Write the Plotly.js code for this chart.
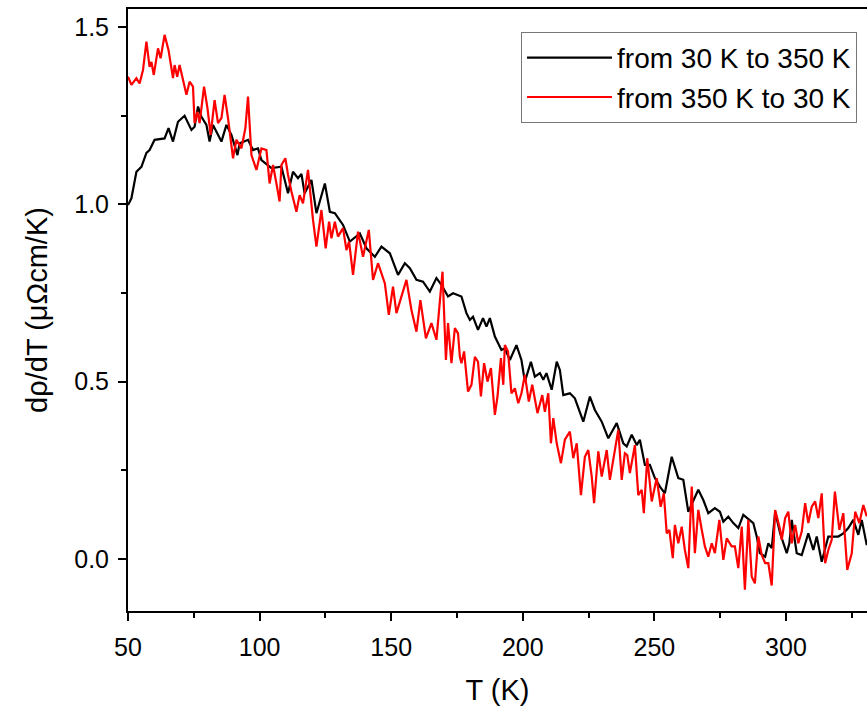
<!DOCTYPE html>
<html>
<head>
<meta charset="utf-8">
<script src="https://cdn.plot.ly/plotly-3.0.1.min.js"></script>
<style>html,body{margin:0;padding:0;background:#fff;overflow:hidden}</style>
</head>
<body>
<div id="chart" style="width:867px;height:710px"></div>
<script>
// Series 1: from 30 K to 350 K (black)
const upT = [50.0,51.3,53.2,55.1,57.0,58.2,60.1,62.7,63.9,65.4,67.1,69.0,71.5,74.1,75.3,76.6,77.9,79.8,81.0,82.3,83.6,85.5,87.4,89.3,91.6,92.4,95.6,97.5,99.4,100.7,104.5,108.3,110.8,112.7,114.6,115.9,117.1,119.7,121.6,124.8,126.7,128.6,131.7,134.3,138.1,140.6,143.8,146.3,149.5,152.6,155.2,157.1,159.6,162.1,164.7,167.2,169.1,171.6,173.5,176.7,178.6,179.9,181.1,183.0,184.9,186.2,187.5,189.4,191.9,193.2,195.1,197.6,199.5,200.8,203.1,204.6,206.5,207.8,209.0,211.0,212.9,214.1,215.4,217.9,219.8,223.0,225.5,227.4,230.0,232.5,235.7,238.2,239.5,241.4,243.3,244.5,246.4,248.3,250.2,252.1,254.0,256.6,259.1,261.0,262.9,264.8,266.7,268.6,270.5,273.0,274.9,276.2,278.1,280.0,281.9,283.8,286.3,287.6,288.9,290.1,292.1,293.3,294.6,295.9,297.8,300.3,301.3,302.2,304.1,306.0,308.5,310.4,311.7,313.6,316.1,318.0,319.9,321.8,323.7,325.6,327.5,328.8,330.7,332.0];
const upD = [0.998,1.017,1.092,1.106,1.145,1.153,1.182,1.186,1.186,1.215,1.177,1.233,1.250,1.210,1.219,1.276,1.247,1.224,1.177,1.224,1.205,1.177,1.224,1.196,1.139,1.172,1.182,1.153,1.158,1.125,1.102,1.106,1.031,1.092,1.074,1.086,1.031,1.069,0.975,1.059,0.979,0.975,0.942,0.895,0.918,0.876,0.852,0.881,0.862,0.801,0.834,0.820,0.787,0.782,0.754,0.792,0.773,0.740,0.749,0.740,0.693,0.674,0.683,0.646,0.679,0.655,0.679,0.627,0.589,0.594,0.561,0.603,0.561,0.500,0.556,0.514,0.524,0.505,0.524,0.477,0.556,0.533,0.462,0.467,0.453,0.387,0.458,0.420,0.387,0.340,0.383,0.326,0.317,0.350,0.321,0.336,0.265,0.265,0.228,0.204,0.185,0.288,0.228,0.223,0.133,0.166,0.195,0.166,0.129,0.143,0.133,0.105,0.119,0.101,0.087,0.124,0.110,0.101,0.063,0.016,0.006,0.044,0.030,0.133,0.072,0.016,0.044,0.110,0.016,0.011,0.072,0.025,0.063,-0.008,0.063,0.063,0.063,0.072,0.087,0.110,0.068,0.110,0.039,0.070];

// Series 2: from 350 K to 30 K (red)
const downT = [50.0,51.3,53.2,54.4,55.7,57.0,58.2,58.9,59.8,61.4,62.4,63.9,65.4,67.1,67.7,68.7,69.6,71.5,72.2,73.4,74.7,75.3,76.4,77.2,78.9,80.2,81.4,82.9,84.2,85.5,86.7,88.0,89.9,91.2,93.1,94.6,95.6,96.9,98.8,100.7,102.6,103.8,105.1,106.4,107.6,108.3,109.8,110.8,112.1,114.0,115.2,116.5,118.4,120.3,121.6,123.5,125.1,126.4,127.3,128.6,129.8,131.7,133.0,134.0,135.5,137.4,139.3,141.5,143.1,145.0,147.6,149.1,150.7,152.0,153.9,155.8,157.7,159.6,161.1,163.2,165.3,167.2,169.5,170.8,171.6,172.9,174.2,175.4,176.1,176.7,177.7,179.2,180.5,181.8,183.0,184.1,185.3,186.6,187.9,189.4,190.4,191.7,192.6,193.2,194.4,195.7,197.0,198.3,199.5,200.8,202.3,203.6,205.6,207.4,208.4,209.7,210.7,211.6,212.9,214.5,216.0,217.9,219.2,220.5,222.1,223.6,224.9,226.2,227.1,228.7,230.0,231.9,233.1,234.8,236.3,237.6,238.8,239.7,240.7,242.6,243.9,245.2,246.0,247.3,249.0,250.9,252.4,253.6,254.7,255.7,257.0,257.8,259.1,260.4,261.6,262.9,264.2,265.4,266.7,268.0,269.2,270.5,271.8,273.0,274.7,276.2,277.5,279.4,280.6,281.9,283.2,284.4,285.7,287.0,288.2,289.5,290.8,292.1,293.3,294.6,295.9,297.8,298.4,299.7,300.9,302.2,303.5,304.7,306.0,307.3,308.5,309.8,311.1,312.3,313.6,314.9,316.1,317.4,318.6,320.3,321.8,323.3,325.0,326.3,327.9,329.4,330.7,332.0];
const downD = [1.360,1.337,1.356,1.341,1.379,1.459,1.388,1.402,1.365,1.440,1.412,1.478,1.435,1.356,1.393,1.360,1.393,1.327,1.309,1.346,1.332,1.229,1.261,1.229,1.332,1.271,1.196,1.294,1.229,1.243,1.309,1.243,1.130,1.182,1.158,1.215,1.304,1.139,1.097,1.158,1.153,1.059,1.111,1.059,1.008,1.111,1.130,1.083,1.036,0.979,1.026,1.003,1.097,0.956,0.881,0.984,0.876,0.951,0.904,0.951,0.909,0.933,0.871,0.895,0.801,0.923,0.852,0.928,0.787,0.834,0.777,0.688,0.768,0.693,0.740,0.787,0.702,0.641,0.730,0.622,0.665,0.618,0.810,0.561,0.665,0.552,0.651,0.636,0.570,0.552,0.585,0.472,0.491,0.570,0.556,0.458,0.552,0.500,0.538,0.406,0.458,0.566,0.491,0.603,0.585,0.467,0.481,0.439,0.467,0.519,0.444,0.491,0.411,0.462,0.415,0.467,0.326,0.397,0.326,0.270,0.336,0.359,0.284,0.326,0.180,0.288,0.307,0.232,0.157,0.303,0.232,0.307,0.223,0.298,0.364,0.223,0.298,0.293,0.242,0.321,0.180,0.195,0.129,0.284,0.162,0.228,0.147,0.185,0.072,0.082,0.002,0.096,0.044,0.091,0.025,-0.026,0.204,0.016,0.138,0.082,0.035,0.006,0.044,0.016,0.110,-0.003,0.058,0.035,0.035,-0.026,0.091,-0.087,0.110,-0.050,-0.069,0.063,0.011,-0.012,-0.012,-0.075,0.138,0.082,0.054,0.115,0.133,0.044,0.096,0.044,0.077,0.157,0.101,0.147,0.162,0.115,0.185,-0.012,0.025,0.054,0.190,0.082,0.129,-0.031,0.016,0.133,0.101,0.152,0.120];

const seriesNames = ["from 30 K to 350 K", "from 350 K to 30 K"];
const xTitle = "T (K)";
const yTitle = "dρ/dT (μΩcm/K)";

const FONT = "Arial, 'Liberation Sans', sans-serif";

const traces = [
  {x: upT, y: upD, type: "scatter", mode: "lines", name: seriesNames[0],
   line: {color: "#000000", width: 2.2}},
  {x: downT, y: downD, type: "scatter", mode: "lines", name: seriesNames[1],
   line: {color: "#ff0000", width: 2.2}}
];

const layout = {
  width: 867, height: 710,
  margin: {l: 128, r: 0, t: 9, b: 99},
  paper_bgcolor: "#fff", plot_bgcolor: "#fff",
  font: {family: FONT, color: "#000"},
  showlegend: true,
  legend: {
    x: 0.9865, xanchor: "right", y: 0.962, yanchor: "top",
    bgcolor: "#fff", bordercolor: "#777", borderwidth: 1,
    font: {family: FONT, size: 28, color: "#000"},
    itemwidth: 85, tracegroupgap: 0
  },
  xaxis: {
    range: [50, 330.8], showgrid: false, zeroline: false,
    showline: true, linecolor: "#000", linewidth: 2, mirror: true,
    ticks: "outside", ticklen: 8, tickwidth: 2, tickcolor: "#000",
    tick0: 50, dtick: 50, ticklabelstandoff: 5,
    minor: {ticks: "outside", ticklen: 5, tickwidth: 2, tickcolor: "#000", dtick: 25, tick0: 50, showgrid: false},
    tickfont: {family: FONT, size: 25, color: "#000"},
    title: {text: xTitle, font: {family: FONT, size: 29, color: "#000"}, standoff: 20}
  },
  yaxis: {
    range: [-0.147, 1.551], showgrid: false, zeroline: false,
    showline: true, linecolor: "#000", linewidth: 2, mirror: false,
    ticks: "outside", ticklen: 8, tickwidth: 2, tickcolor: "#000",
    tick0: 0, dtick: 0.5, tickformat: ".1f", ticklabelstandoff: 4,
    minor: {ticks: "outside", ticklen: 5, tickwidth: 2, tickcolor: "#000", dtick: 0.25, tick0: 0, showgrid: false},
    tickfont: {family: FONT, size: 25, color: "#000"},
    title: {text: yTitle, font: {family: FONT, size: 29, color: "#000"}, standoff: 18}
  }
};

Plotly.newPlot("chart", traces, layout, {displayModeBar: false, staticPlot: true});
</script>
</body>
</html>
